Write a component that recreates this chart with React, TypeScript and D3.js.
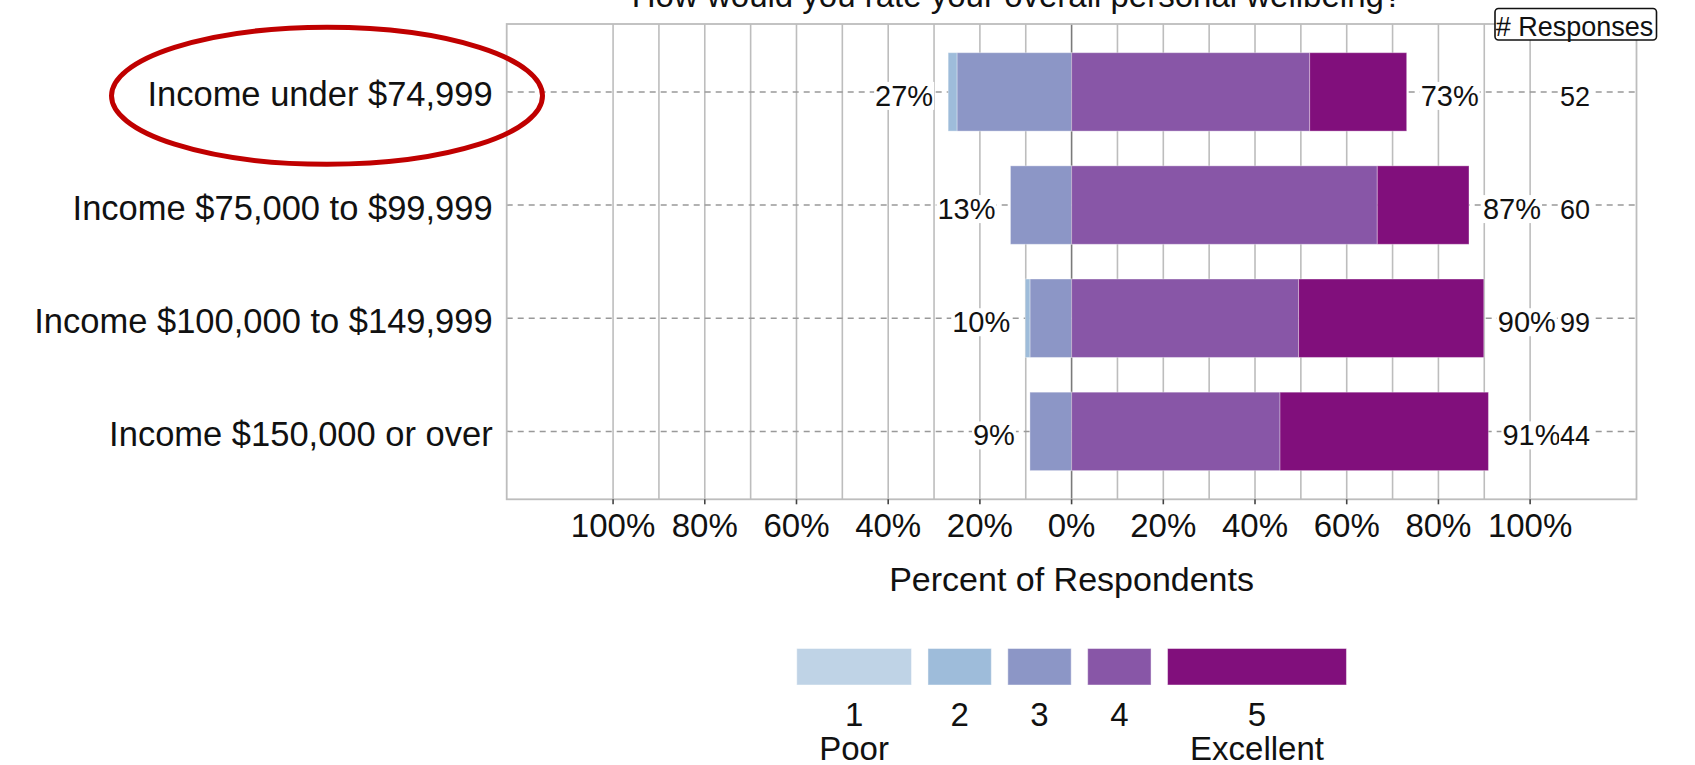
import React, { useEffect, useRef } from 'react';
import * as d3 from 'd3';

const title = 'How would you rate your overall personal wellbeing?';
const categories = [
  'Income under $74,999',
  'Income $75,000 to $99,999',
  'Income $100,000 to $149,999',
  'Income $150,000 or over',
];
const levelCodes = ['1', '2', '3', '4', '5'];
const levelNames = ['Poor', '', '', '', 'Excellent'];
const levelColors = ['#BFD3E6', '#9EBCDA', '#8C96C6', '#8856A7', '#810F7C'];
// response counts per category for each rating level
const level1 = [0, 0, 0, 0];
const level2 = [1, 0, 1, 0];
const level3 = [13, 8, 9, 4];
const level4 = [27, 40, 49, 20];
const level5 = [11, 12, 40, 20];
const responses = [52, 60, 99, 44];
const tickValues = [-100, -80, -60, -40, -20, 0, 20, 40, 60, 80, 100];
const gridValues = [-100, -90, -80, -70, -60, -50, -40, -30, -20, -10, 0, 10, 20, 30, 40, 50, 60, 70, 80, 90, 100];
const xTitle = 'Percent of Respondents';
const countTitle = '# Responses';

const FONT = '"Liberation Sans", Arial, sans-serif';

export default function App() {
  const ref = useRef<SVGSVGElement | null>(null);

  useEffect(() => {
    const svg = d3.select(ref.current);
    svg.selectAll('*').remove();

    const panel = { left: 506.7, right: 1636.5, top: 24, bottom: 499.3 };
    const x = d3.scaleLinear().domain([-123.2, 123.2]).range([panel.left, panel.right]);
    const y = d3.scaleLinear().domain([0.4, 4.6]).range([panel.top, panel.bottom]);
    const bandH = (y(1.5) - y(0.5)) * 0.693;

    const levels = [level1, level2, level3, level4, level5];
    const rows = categories.map((c, i) => {
      const n = responses[i];
      const pct = levels.map((l) => (l[i] / n) * 100);
      return { c, i, n, pct };
    });

    // gridlines
    const g = svg.append('g');
    g.selectAll('line.grid')
      .data(gridValues)
      .join('line')
      .attr('x1', (d) => x(d))
      .attr('x2', (d) => x(d))
      .attr('y1', panel.top)
      .attr('y2', panel.bottom)
      .attr('stroke', (d) => (d === 0 ? '#7a7a7a' : '#bdbdbd'))
      .attr('stroke-width', 1.6);

    // dashed reference lines
    g.selectAll('line.ref')
      .data(rows)
      .join('line')
      .attr('x1', panel.left)
      .attr('x2', panel.right)
      .attr('y1', (d) => y(d.i + 1))
      .attr('y2', (d) => y(d.i + 1))
      .attr('stroke', '#999999')
      .attr('stroke-width', 1.5)
      .attr('stroke-dasharray', '6,5');

    // bars
    rows.forEach((r) => {
      const cy = y(r.i + 1);
      // negative side: level 3, 2, 1 going left
      let acc = 0;
      [2, 1, 0].forEach((k) => {
        const v = r.pct[k];
        if (v > 0) {
          g.append('rect')
            .attr('x', x(-(acc + v)))
            .attr('y', cy - bandH / 2)
            .attr('width', x(v) - x(0))
            .attr('height', bandH)
            .attr('fill', levelColors[k])
            .attr('stroke', 'rgba(255,255,255,0.35)')
            .attr('stroke-width', 1);
        }
        acc += v;
      });
      acc = 0;
      [3, 4].forEach((k) => {
        const v = r.pct[k];
        if (v > 0) {
          g.append('rect')
            .attr('x', x(acc))
            .attr('y', cy - bandH / 2)
            .attr('width', x(v) - x(0))
            .attr('height', bandH)
            .attr('fill', levelColors[k])
            .attr('stroke', 'rgba(255,255,255,0.35)')
            .attr('stroke-width', 1);
        }
        acc += v;
      });
    });

    // labels with white background boxes
    const boxed = (tx: number, ty: number, txt: string, size: number, anchor: string) => {
      const t = svg
        .append('text')
        .attr('x', tx)
        .attr('y', ty)
        .attr('text-anchor', anchor)
        .attr('font-family', FONT)
        .attr('font-size', size)
        .attr('fill', '#111')
        .text(txt);
      const bb = (t.node() as SVGTextElement).getBBox();
      svg
        .insert('rect', () => t.node() as any)
        .attr('x', bb.x - 1)
        .attr('y', bb.y + 2)
        .attr('width', bb.width + 2)
        .attr('height', bb.height - 4)
        .attr('fill', '#ffffff');
    };

    rows.forEach((r) => {
      const cy = y(r.i + 1);
      const low = r.pct[0] + r.pct[1] + r.pct[2];
      const high = r.pct[3] + r.pct[4];
      boxed(x(-low) - 15, cy + 14, `${Math.round(low)}%`, 29, 'end');
      boxed(x(high) + 14, cy + 14, `${Math.round(high)}%`, 29, 'start');
      boxed(1575, cy + 14, `${r.n}`, 27, 'middle');
    });

    // panel border
    svg
      .append('rect')
      .attr('x', panel.left)
      .attr('y', panel.top)
      .attr('width', panel.right - panel.left)
      .attr('height', panel.bottom - panel.top)
      .attr('fill', 'none')
      .attr('stroke', '#bdbdbd')
      .attr('stroke-width', 1.8);

    // x ticks
    const ax = svg.append('g');
    ax.selectAll('line')
      .data(tickValues)
      .join('line')
      .attr('x1', (d) => x(d))
      .attr('x2', (d) => x(d))
      .attr('y1', panel.bottom)
      .attr('y2', panel.bottom + 5)
      .attr('stroke', '#444')
      .attr('stroke-width', 1.6);
    ax.selectAll('text')
      .data(tickValues)
      .join('text')
      .attr('x', (d) => x(d))
      .attr('y', 536.5)
      .attr('text-anchor', 'middle')
      .attr('font-family', FONT)
      .attr('font-size', 33)
      .attr('fill', '#111')
      .text((d) => `${Math.abs(d)}%`);

    svg
      .append('text')
      .attr('x', (panel.left + panel.right) / 2)
      .attr('y', 591)
      .attr('text-anchor', 'middle')
      .attr('font-family', FONT)
      .attr('font-size', 34)
      .attr('fill', '#111')
      .text(xTitle);

    // y labels
    svg
      .append('g')
      .selectAll('text')
      .data(rows)
      .join('text')
      .attr('x', 492.7)
      .attr('y', (d) => y(d.i + 1) + 14.5)
      .attr('text-anchor', 'end')
      .attr('font-family', FONT)
      .attr('font-size', 34.5)
      .attr('fill', '#111')
      .text((d) => d.c);

    // title
    svg
      .append('text')
      .attr('x', 1017)
      .attr('y', 7)
      .attr('text-anchor', 'middle')
      .attr('font-family', FONT)
      .attr('font-size', 33)
      .attr('fill', '#111')
      .text(title);

    // # Responses box
    const rt = svg
      .append('text')
      .attr('x', 1574.5)
      .attr('y', 35.5)
      .attr('text-anchor', 'middle')
      .attr('font-family', FONT)
      .attr('font-size', 27)
      .attr('fill', '#111')
      .text(countTitle);
    svg
      .insert('rect', () => rt.node() as any)
      .attr('x', 1495)
      .attr('y', 8.5)
      .attr('width', 161.5)
      .attr('height', 31.5)
      .attr('rx', 3.5)
      .attr('fill', '#fff')
      .attr('stroke', '#111')
      .attr('stroke-width', 1.6);

    // legend
    const lg = svg.append('g');
    const widths = levelCodes.map((c, k) => {
      const t = lg
        .append('text')
        .attr('font-family', FONT)
        .attr('font-size', 33)
        .text(levelNames[k] || c);
      const w = (t.node() as SVGTextElement).getComputedTextLength();
      t.remove();
      return Math.max(63, w + 45);
    });
    const gap = 16.5;
    const total = d3.sum(widths) + gap * (widths.length - 1);
    let lx = (panel.left + panel.right) / 2 - total / 2;
    levelCodes.forEach((c, k) => {
      const w = widths[k];
      lg.append('rect')
        .attr('x', lx)
        .attr('y', 648.5)
        .attr('width', w)
        .attr('height', 36.5)
        .attr('fill', levelColors[k])
        .attr('stroke', 'rgba(255,255,255,0.45)')
        .attr('stroke-width', 1);
      lg.append('text')
        .attr('x', lx + w / 2)
        .attr('y', 725.5)
        .attr('text-anchor', 'middle')
        .attr('font-family', FONT)
        .attr('font-size', 33)
        .attr('fill', '#111')
        .text(c);
      if (levelNames[k]) {
        lg.append('text')
          .attr('x', lx + w / 2)
          .attr('y', 759.5)
          .attr('text-anchor', 'middle')
          .attr('font-family', FONT)
          .attr('font-size', 33)
          .attr('fill', '#111')
          .text(levelNames[k]);
      }
      lx += w + gap;
    });

    // red highlight ellipse
    svg
      .append('ellipse')
      .attr('cx', 327)
      .attr('cy', 95.8)
      .attr('rx', 215.5)
      .attr('ry', 68.5)
      .attr('fill', 'none')
      .attr('stroke', '#C00000')
      .attr('stroke-width', 5);
  }, []);

  return (
    <svg
      ref={ref}
      width={1695}
      height={765}
      style={{ position: 'absolute', left: 0, top: 0, background: '#fff' }}
    />
  );
}
